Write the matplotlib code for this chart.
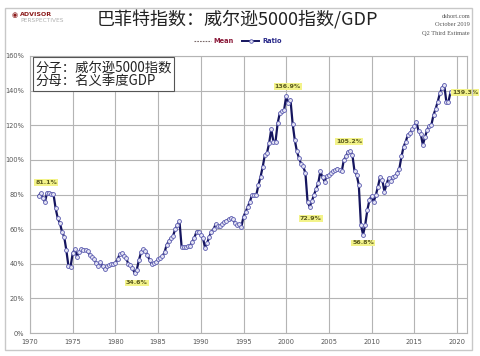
import matplotlib
matplotlib.use("Agg")
import matplotlib.pyplot as plt
from matplotlib.lines import Line2D
from matplotlib.patches import Rectangle
import numpy as np

# ---- data (quarterly, Wilshire 5000 / GDP, %) ----
years = list(range(1971, 2020))
ratio_by_year = {
    1971: [79.2, 80.8, 78.0, 75.7],
    1972: [81.1, 80.8, 80.5, 80.2],
    1973: [72.0, 66.3, 63.5, 58.5],
    1974: [55.7, 48.0, 38.7, 38.3],
    1975: [46.0, 48.4, 44.1, 46.5],
    1976: [48.4, 48.2, 48.0, 47.5],
    1977: [45.0, 44.0, 42.5, 40.5],
    1978: [38.7, 41.0, 38.5, 36.8],
    1979: [38.5, 39.2, 39.7, 40.0],
    1980: [40.5, 42.5, 45.5, 46.0],
    1981: [44.5, 43.5, 40.0, 39.5],
    1982: [37.5, 34.6, 36.5, 42.0],
    1983: [46.5, 48.4, 47.5, 45.0],
    1984: [42.2, 39.7, 40.5, 41.0],
    1985: [42.5, 43.5, 44.4, 46.5],
    1986: [50.9, 53.0, 54.7, 56.0],
    1987: [60.0, 62.4, 64.7, 49.9],
    1988: [49.6, 49.8, 50.0, 50.5],
    1989: [52.7, 55.0, 58.6, 58.6],
    1990: [56.6, 55.0, 49.0, 52.0],
    1991: [55.7, 58.6, 60.0, 63.0],
    1992: [62.0, 61.8, 63.0, 64.3],
    1993: [64.8, 65.7, 66.3, 66.0],
    1994: [63.4, 62.5, 63.0, 61.4],
    1995: [67.2, 70.0, 73.0, 75.9],
    1996: [79.8, 79.8, 79.8, 85.5],
    1997: [90.3, 96.0, 102.9, 104.0],
    1998: [109.6, 117.7, 110.6, 110.6],
    1999: [121.2, 127.0, 128.0, 128.7],
    2000: [136.9, 132.9, 134.8, 121.0],
    2001: [111.6, 105.0, 101.0, 97.7],
    2002: [96.2, 92.3, 75.9, 72.9],
    2003: [76.0, 79.8, 83.0, 86.5],
    2004: [93.3, 90.0, 87.5, 90.8],
    2005: [91.0, 92.3, 93.3, 94.0],
    2006: [95.0, 94.2, 93.3, 100.0],
    2007: [102.0, 104.8, 105.2, 102.9],
    2008: [93.3, 91.4, 85.5, 62.4],
    2009: [56.8, 62.4, 71.0, 76.9],
    2010: [79.2, 75.9, 79.8, 84.6],
    2011: [90.3, 88.5, 81.7, 86.0],
    2012: [89.6, 88.0, 90.3, 90.5],
    2013: [92.3, 95.0, 102.0, 107.7],
    2014: [110.6, 114.5, 115.4, 117.7],
    2015: [119.3, 122.0, 116.4, 115.0],
    2016: [108.7, 113.0, 117.3, 119.8],
    2017: [120.2, 126.0, 129.5, 133.7],
    2018: [138.6, 141.5, 143.4, 133.7],
    2019: [133.7, 139.3],
}

# annotated values: (label, x-year, y-value, ha)
annot_labels = ["81.1%", "34.6%", "136.9%", "72.9%", "105.2%", "56.8%", "139.3%"]
annot_x = [1971.9, 1982.5, 2000.2, 2002.9, 2007.35, 2009.0, 2019.45]
annot_y = [86.7, 28.9, 142.2, 65.9, 110.4, 52.0, 138.9]
annot_ha = ["center", "center", "center", "center", "center", "center", "left"]

x_ticks = list(range(1970, 2021, 5))
y_ticks = list(range(0, 161, 20))

title = "巴菲特指数：威尔逊5000指数/GDP"
box_lines = ["分子：威尔逊5000指数", "分母：名义季度GDP"]

# ---- build series ----
xs, ys = [], []
for yr in years:
    for q, v in enumerate(ratio_by_year[yr]):
        xs.append(yr + q / 4.0)
        ys.append(v)

cjk = ["Noto Sans CJK SC", "DejaVu Sans"]

fig = plt.figure(figsize=(4.8, 3.56), dpi=100)
fig.patch.set_facecolor("white")

# outer frame
fig.add_artist(Rectangle((5 / 480, 1 - 350 / 356), 467 / 480, 342 / 356,
                         transform=fig.transFigure, fill=False,
                         edgecolor="#c8c8c8", linewidth=1.0))

ax = fig.add_axes([30 / 480, 1 - 333 / 356, 437 / 480, 277 / 356])
ax.plot(xs, ys, color="#15155e", linewidth=1.6, marker="o", markersize=2.8,
        markerfacecolor="#e4e4f4", markeredgecolor="#5c5cb0", markeredgewidth=0.6,
        zorder=3)

ax.set_xlim(1970, 2021.17)
ax.set_ylim(0, 160)
ax.set_xticks(x_ticks)
ax.set_yticks(y_ticks)
ax.set_yticklabels([f"{t}%" for t in y_ticks])
ax.grid(True, color="#b4b4b4", linewidth=0.8)
ax.set_axisbelow(True)
for s in ax.spines.values():
    s.set_color("#b4b4b4")
    s.set_linewidth(0.8)
ax.tick_params(axis="both", length=0, labelsize=4.8, colors="#555555", pad=4)

for lab, x, y, ha in zip(annot_labels, annot_x, annot_y, annot_ha):
    ax.text(x, y, lab, ha=ha, va="center", fontsize=4.5, fontweight="bold",
            color="#5a5a1e", clip_on=False, zorder=5,
            bbox=dict(boxstyle="square,pad=0.15", facecolor="#f3f38a",
                      edgecolor="none"))

# text box
ax.text(0.012, 0.985, "\n".join(box_lines), transform=ax.transAxes,
        ha="left", va="top", fontsize=9.6, family=cjk, color="#222222",
        linespacing=1.0, zorder=6,
        bbox=dict(boxstyle="square,pad=0.2", facecolor="white",
                  edgecolor="#555555", linewidth=0.8))

# title
fig.text(0.495, 1 - 20 / 356, title, ha="center", va="center",
         fontsize=13, family=cjk, color="#222222")

# logo
fig.text(12 / 480, 1 - 15 / 356, "◉", ha="left", va="center", fontsize=5,
         color="#8b1a1a", family=["DejaVu Sans"])
fig.text(20 / 480, 1 - 14 / 356, "ADVISOR", ha="left", va="center",
         fontsize=4.5, fontweight="bold", color="#8b1a1a")
fig.text(20 / 480, 1 - 20 / 356, "PERSPECTIVES", ha="left", va="center",
         fontsize=4.2, color="#b0b0b0")

# right header
for i, t in enumerate(["dshort.com", "October 2019", "Q2 Third Estimate"]):
    fig.text(470 / 480, 1 - (16 + 9 * i) / 356, t, ha="right", va="center",
             fontsize=4.6, family=["Liberation Serif"], color="#555555")

# legend
h_mean = Line2D([], [], color="#7a6a6a", linestyle=(0, (1.5, 1)), linewidth=0.8)
h_ratio = Line2D([], [], color="#15155e", linewidth=1.4, marker="o",
                 markersize=2.6, markerfacecolor="#e4e4f4",
                 markeredgecolor="#5c5cb0", markeredgewidth=0.6)
leg = fig.legend([h_mean, h_ratio], ["Mean", "Ratio"], loc="center",
                 bbox_to_anchor=(0.495, 1 - 41 / 356), ncol=2, frameon=False,
                 fontsize=4.8, handlelength=2.6, columnspacing=1.2,
                 handletextpad=0.4)
for txt, c in zip(leg.get_texts(), ["#8b1a3a", "#2a2a8a"]):
    txt.set_color(c)
    txt.set_fontweight("bold")

fig.savefig("out.png", dpi=100)
